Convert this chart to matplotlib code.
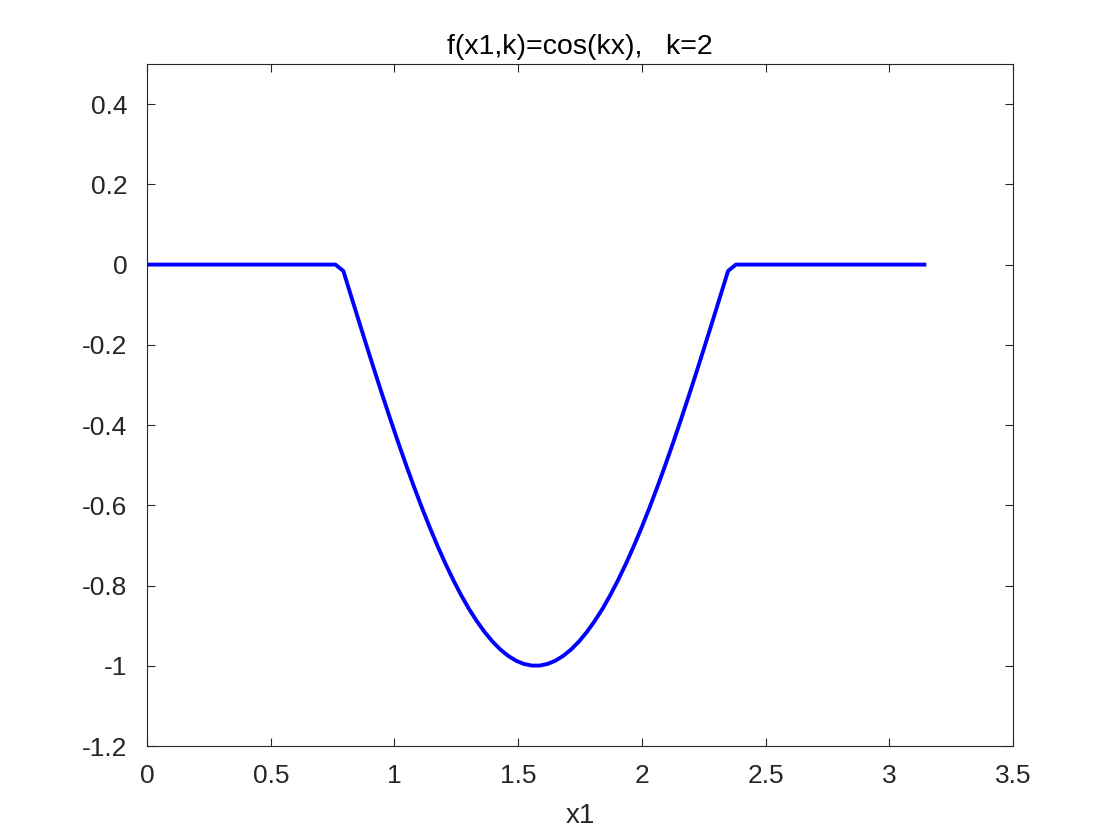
import numpy as np
import matplotlib
matplotlib.use("Agg")
import matplotlib.pyplot as plt
from matplotlib.ticker import FixedLocator, FuncFormatter

plt.rcParams['font.family'] = ['Liberation Sans', 'DejaVu Sans']

# sample positions: 100 evenly spaced samples on [0, pi]
x1 = np.linspace(0, 3.14159265, 100)

dip_half = [-0.0159, -0.0792, -0.1423, -0.2048, -0.2665, -0.3271, -0.3863,
            -0.4441, -0.5000, -0.5539, -0.6056, -0.6549, -0.7015, -0.7453,
            -0.7861, -0.8239, -0.8583, -0.8888, -0.9161, -0.9397, -0.9595,
            -0.9754, -0.9874, -0.9955, -0.9995]
f_vals = [0.0] * 25 + dip_half + dip_half[::-1] + [0.0] * 25

xticks = [0, 0.5, 1, 1.5, 2, 2.5, 3, 3.5]
yticks = [-1.2, -1.0, -0.8, -0.6, -0.4, -0.2, 0, 0.2, 0.4]
title_text = "f(x1,k)=cos(kx),   k=2"
xlabel_text = "x1"

fig = plt.figure(figsize=(11.2, 8.4), dpi=100)
ax = fig.add_axes([0.1313, 0.1119, 0.7732, 0.8119])
ax.plot(x1, f_vals, color='#0000ff', linewidth=2.8)

ax.set_xlim(0, 3.5)
ax.set_ylim(-1.2, 0.5)
ax.xaxis.set_major_locator(FixedLocator(xticks))
ax.yaxis.set_major_locator(FixedLocator(yticks))

def fmt(v, pos):
    s = ('%g' % round(v, 4))
    if s == '-0':
        s = '0'
    return s

ax.xaxis.set_major_formatter(FuncFormatter(fmt))
ax.yaxis.set_major_formatter(FuncFormatter(fmt))

dark = '#262626'
for sp in ax.spines.values():
    sp.set_color(dark)
    sp.set_linewidth(0.8)
ax.tick_params(direction='in', top=True, right=True, length=6, width=0.8,
               colors=dark, labelsize=19)
ax.tick_params(axis='x', pad=13)
ax.tick_params(axis='y', pad=14)
ax.set_title(title_text, fontsize=20.5, color='#000000', pad=7)
ax.set_xlabel(xlabel_text, fontsize=20, color=dark, labelpad=11)

fig.savefig("out.png", dpi=100)
